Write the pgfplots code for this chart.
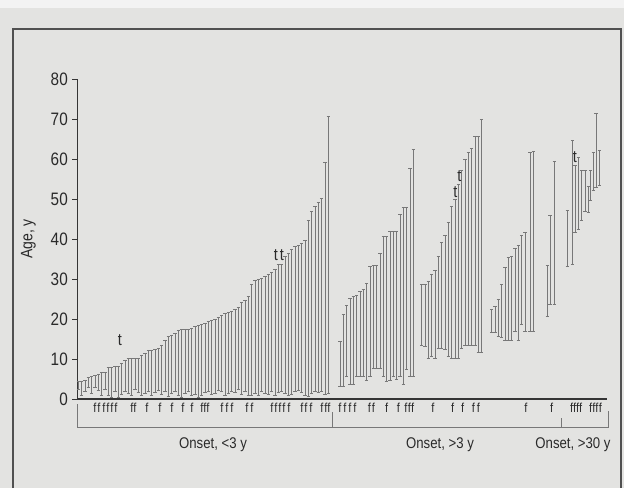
\documentclass[border=0pt]{standalone}
\usepackage{pgfplots}
\pgfplotsset{compat=1.18}
\usepackage{pgfplotstable}
\usepackage{fontspec}
\setmainfont{Liberation Sans}[FakeStretch=0.85]
\definecolor{bgc}{HTML}{E3E3E1}
\definecolor{topc}{HTML}{F3F3F3}
\definecolor{framec}{HTML}{505050}
\definecolor{barc}{HTML}{787878}
\definecolor{axc}{HTML}{353535}
\definecolor{txtc}{HTML}{2A2A2A}

% Onset <3 y
\pgfplotstableread{
x lo hi
0.3 2.5 4.3
1.3 1.0 4.3
2.3 2.0 4.75
3.3 2.8 5.3
4.3 1.5 5.6
5.3 3.0 6.0
6.3 2.2 6.25
7.3 1.0 6.6
8.3 2.5 6.6
9.3 0.8 7.9
10.3 0.5 7.9
11.3 1.8 8.1
12.3 0.3 8.25
13.3 1.2 8.9
14.3 2.0 9.75
15.3 1.5 10.2
16.3 1.0 10.2
17.3 2.3 10.2
18.3 1.6 10.2
19.3 0.8 11.0
20.3 1.5 11.4
21.3 2.0 12.1
22.3 1.0 12.25
23.3 1.6 12.4
24.3 2.2 12.7
25.3 1.2 13.5
26.3 1.8 14.75
27.3 0.6 15.6
28.3 1.5 16.0
29.3 2.0 16.4
30.3 1.0 17.1
31.3 0.5 17.4
32.3 1.4 17.4
33.3 1.8 17.4
34.3 0.8 17.7
35.3 1.2 18.1
36.3 0.4 18.5
37.3 1.0 18.75
38.3 1.6 18.9
39.3 2.0 19.3
40.3 1.2 19.6
41.3 1.5 19.9
42.3 2.2 20.4
43.3 1.8 21.0
44.3 1.0 21.4
45.3 1.4 21.6
46.3 2.0 22.0
47.3 1.6 22.4
48.3 2.4 22.9
49.3 1.2 24.1
50.3 1.8 24.75
51.3 1.0 25.6
52.3 0.8 28.75
53.3 1.4 29.6
54.3 1.0 29.9
55.3 2.0 30.2
56.3 1.5 30.6
57.3 1.2 31.25
58.3 1.8 31.6
59.3 1.0 32.4
60.3 1.6 33.75
61.3 2.0 33.75
62.3 1.4 35.6
63.3 0.8 36.4
64.3 1.2 37.4
65.3 1.8 38.1
66.3 2.2 38.5
67.3 1.6 38.9
68.3 1.0 39.75
69.3 0.6 44.6
70.3 1.4 46.8
71.3 2.0 48.1
72.3 1.6 49.1
73.3 1.8 50.2
74.3 1.2 59.1
75.3 1.5 70.75
}\gA

% Onset >3 y (subgroups)
\pgfplotstableread{
x lo hi
78.8 3.1 14.3
79.8 3.25 21.25
80.8 5.6 23.5
81.8 3.75 25.2
82.8 3.75 25.6
83.8 5.6 26.0
84.8 5.75 26.8
85.8 5.75 27.4
86.8 4.75 28.9
87.8 5.75 33.25
88.8 7.7 33.3
89.8 7.7 33.5
90.8 7.7 36.4
91.8 5.75 40.75
92.8 4.5 40.75
93.8 4.75 42.0
94.8 5.6 42.0
95.8 4.8 42.0
96.8 5.75 46.2
97.8 3.75 47.9
98.8 7.5 47.9
99.8 5.75 57.7
100.8 5.75 62.4
}\gB

\pgfplotstableread{
x lo hi
103.3 13.5 28.7
104.3 13.1 28.7
105.3 10.2 29.3
106.3 10.6 31.25
107.3 10.2 32.1
108.3 12.7 35.6
109.3 12.6 39.1
110.3 12.5 41.0
111.3 10.6 44.25
112.3 10.2 48.1
113.3 10.2 49.9
114.3 10.2 53.7
115.3 12.7 57.25
116.3 13.5 59.9
117.3 13.5 61.6
118.3 13.5 62.7
119.3 13.5 65.75
120.3 11.6 65.75
121.3 11.6 69.9
}\gC

\pgfplotstableread{
x lo hi
124.3 16.6 22.4
125.3 16.6 23.1
126.3 15.6 24.9
127.3 15.4 28.75
128.3 14.75 32.9
129.3 14.75 35.4
130.3 14.75 35.75
131.3 16.8 37.7
132.3 14.75 38.5
133.3 18.75 41.0
134.3 16.8 41.6
135.8 16.8 61.6
136.8 16.8 61.8
}\gD

\pgfplotstableread{
x lo hi
141.0 20.75 33.3
141.8 23.75 46.0
143.1 23.75 59.5
}\gE

% Onset >30 y
\pgfplotstableread{
x lo hi
147.0 33.1 47.25
148.6 33.75 64.6
149.3 41.6 58.5
150.3 42.4 60.4
151.3 44.75 57.1
152.3 46.8 57.1
153.3 46.7 53.25
154.0 49.75 57.1
154.8 52.25 61.6
155.6 52.9 71.4
156.6 53.5 62.1
}\gF

\pgfplotsset{
  rangebar/.style={draw=none, mark=none, forget plot,
    error bars/.cd, y dir=both, y explicit,
    error bar style={draw=barc, line width=0.65pt},
    error mark options={draw=barc, line width=0.65pt, mark size=1.7pt, rotate=90}},
}

\begin{document}
\begin{tikzpicture}[x=1pt,y=1pt]
\useasboundingbox (0,0) rectangle (624,488);
\fill[bgc] (0,0) rectangle (624,480);
\fill[topc] (0,480) rectangle (624,488);
\draw[framec, line width=1.5pt] (13,0) -- (13,459) -- (621,459) -- (621,0);
\begin{axis}[
  at={(77.3pt,89pt)}, anchor=south west,
  scale only axis, width=529.7pt, height=320pt,
  xmin=0, xmax=158.9, ymin=0, ymax=80,
  clip=false,
  axis x line*=bottom, axis y line*=left,
  x axis line style={line width=1.8pt, draw=axc},
  y axis line style={line width=1.1pt, draw=axc},
  xtick=\empty,
  ytick={0,10,...,80},
  tick align=outside, major tick length=5pt,
  ytick style={line width=1pt, draw=axc},
  /pgf/number format/assume math mode=true,
  yticklabel style={font=\fontsize{18}{18}\selectfont, text=txtc, xshift=-1pt},
  ylabel={Age, y},
  ylabel style={at={(axis description cs:-0.0925,0.5)}, anchor=center,
    font=\fontsize{16.5}{16.5}\selectfont, text=txtc},
]
\addplot[rangebar] table[x=x, y=lo, y error plus expr=\thisrow{hi}-\thisrow{lo}, y error minus expr=0] {\gA};
\addplot[rangebar] table[x=x, y=lo, y error plus expr=\thisrow{hi}-\thisrow{lo}, y error minus expr=0] {\gB};
\addplot[rangebar] table[x=x, y=lo, y error plus expr=\thisrow{hi}-\thisrow{lo}, y error minus expr=0] {\gC};
\addplot[rangebar] table[x=x, y=lo, y error plus expr=\thisrow{hi}-\thisrow{lo}, y error minus expr=0] {\gD};
\addplot[rangebar] table[x=x, y=lo, y error plus expr=\thisrow{hi}-\thisrow{lo}, y error minus expr=0] {\gE};
\addplot[rangebar] table[x=x, y=lo, y error plus expr=\thisrow{hi}-\thisrow{lo}, y error minus expr=0] {\gF};

% f markers below the axis
\pgfplotsinvokeforeach{5.31,6.51,8.01,9.21,10.41,11.61,16.4,17.3,20.9,24.8,28.4,31.7,34.4,37.4,38.3,39.2,43.4,44.9,46.4,50.9,52.4,58.4,59.6,60.8,62.0,63.5,67.4,68.6,70.1,73.4,74.6,75.5,78.8,80.3,81.8,83.3,87.6,88.8,92.8,96.3,98.6,99.6,100.6,106.7,112.6,115.6,118.8,120.3,134.6,142.3,148.3,149.2,150.1,151.0,154.0,155.0,155.9,156.9}{
  \node[font=\fontsize{13}{13}\selectfont, text=txtc, inner sep=0pt] at (axis cs:#1,-2.3) {f};
}
% t markers
\node[font=\fontsize{17}{17}\selectfont, text=txtc, inner sep=0pt] at (axis cs:12.8,14.75) {t};
\node[font=\fontsize{17}{17}\selectfont, text=txtc, inner sep=0pt] at (axis cs:59.6,35.9) {t};
\node[font=\fontsize{17}{17}\selectfont, text=txtc, inner sep=0pt] at (axis cs:61.4,35.9) {t};
\node[font=\fontsize{17}{17}\selectfont, text=txtc, inner sep=0pt] at (axis cs:113.4,51.8) {t};
\node[font=\fontsize{17}{17}\selectfont, text=txtc, inner sep=0pt] at (axis cs:114.6,55.8) {t};
\node[font=\fontsize{17}{17}\selectfont, text=txtc, inner sep=0pt] at (axis cs:149.3,60.4) {t};

% group bracket
\draw[barc, line width=1pt] (axis cs:0.2,-1.25) -- (axis cs:0.2,-7) -- (axis cs:159.2,-7) -- (axis cs:159.2,-3);
\draw[barc, line width=1pt] (axis cs:76.7,-3.25) -- (axis cs:76.7,-7);
\draw[barc, line width=1pt] (axis cs:145.1,-4.75) -- (axis cs:145.1,-7);
\node[font=\fontsize{15.5}{15.5}\selectfont, text=txtc] at (axis cs:40.7,-11.5) {Onset, <3 y};
\node[font=\fontsize{15.5}{15.5}\selectfont, text=txtc] at (axis cs:108.8,-11.5) {Onset, >3 y};
\node[font=\fontsize{15.5}{15.5}\selectfont, text=txtc] at (axis cs:148.7,-11.5) {Onset, >30 y};
\end{axis}
\end{tikzpicture}
\end{document}
